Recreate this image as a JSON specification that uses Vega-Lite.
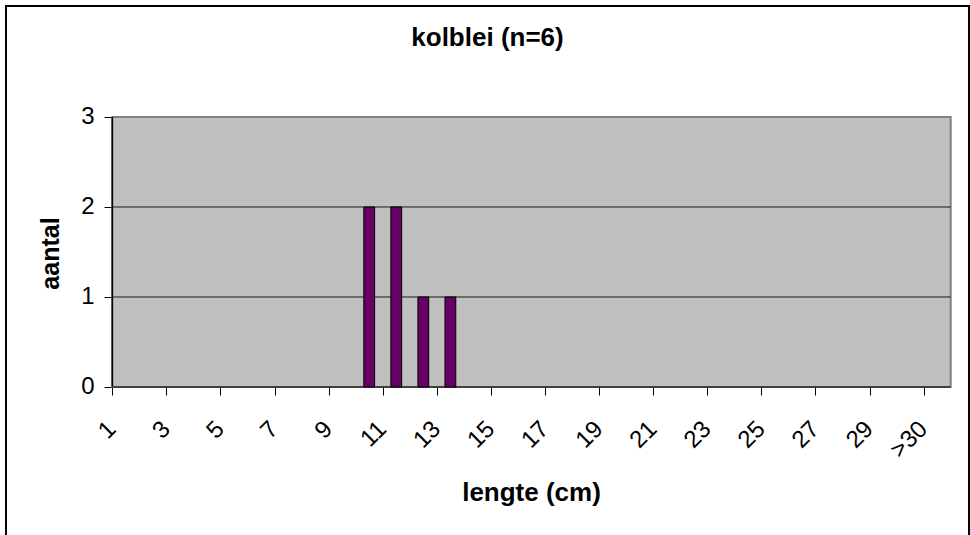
{
  "$schema": "https://vega.github.io/schema/vega-lite/v6.json",
  "width": 963,
  "height": 535,
  "autosize": "none",
  "padding": {"left": 6, "top": 6, "right": 1, "bottom": 0},
  "background": "white",
  "config": {
    "font": "Liberation Sans",
    "view": {"stroke": "black", "strokeWidth": 2, "fill": "white"}
  },
  "title": {
    "text": "kolblei (n=6)",
    "font": "Liberation Sans",
    "fontSize": 26,
    "fontWeight": "bold",
    "color": "black",
    "anchor": "middle",
    "frame": "group",
    "baseline": "alphabetic",
    "offset": -66
  },
  "data": {
    "values": [
      {"lengte": "1", "aantal": 0},
      {"lengte": "2", "aantal": 0},
      {"lengte": "3", "aantal": 0},
      {"lengte": "4", "aantal": 0},
      {"lengte": "5", "aantal": 0},
      {"lengte": "6", "aantal": 0},
      {"lengte": "7", "aantal": 0},
      {"lengte": "8", "aantal": 0},
      {"lengte": "9", "aantal": 0},
      {"lengte": "10", "aantal": 2},
      {"lengte": "11", "aantal": 2},
      {"lengte": "12", "aantal": 1},
      {"lengte": "13", "aantal": 1},
      {"lengte": "14", "aantal": 0},
      {"lengte": "15", "aantal": 0},
      {"lengte": "16", "aantal": 0},
      {"lengte": "17", "aantal": 0},
      {"lengte": "18", "aantal": 0},
      {"lengte": "19", "aantal": 0},
      {"lengte": "20", "aantal": 0},
      {"lengte": "21", "aantal": 0},
      {"lengte": "22", "aantal": 0},
      {"lengte": "23", "aantal": 0},
      {"lengte": "24", "aantal": 0},
      {"lengte": "25", "aantal": 0},
      {"lengte": "26", "aantal": 0},
      {"lengte": "27", "aantal": 0},
      {"lengte": "28", "aantal": 0},
      {"lengte": "29", "aantal": 0},
      {"lengte": "30", "aantal": 0},
      {"lengte": ">30", "aantal": 0}
    ]
  },
  "layer": [
    {
      "data": {"values": [{}]},
      "layer": [
        {
          "mark": {"type": "rect", "fill": "#C0C0C0", "stroke": "#808080", "strokeWidth": 2},
          "encoding": {
            "x": {
              "datum": 0,
              "type": "quantitative",
              "scale": {"domain": [-3.9305, 31.677], "nice": false, "zero": false},
              "axis": {
                "orient": "bottom",
                "offset": -154,
                "values": [0, 1, 2, 3, 4, 5, 6, 7, 8, 9, 10, 11, 12, 13, 14, 15, 16, 17, 18, 19, 20, 21, 22, 23, 24, 25, 26, 27, 28, 29, 30, 31],
                "domain": false,
                "grid": false,
                "labels": false,
                "ticks": true,
                "tickSize": 8,
                "tickColor": "black",
                "tickWidth": 1,
                "title": null
              }
            },
            "x2": {"datum": 31},
            "y": {
              "datum": 0,
              "type": "quantitative",
              "scale": {"domain": [-1.7111, 4.2333], "nice": false, "zero": false}
            },
            "y2": {"datum": 3}
          }
        },
        {
          "mark": {"type": "rule", "color": "#1a1a1a", "strokeWidth": 1},
          "encoding": {
            "x": {"datum": 0, "type": "quantitative"},
            "x2": {"datum": 31},
            "y": {"datum": 1, "type": "quantitative"}
          }
        },
        {
          "mark": {"type": "rule", "color": "#1a1a1a", "strokeWidth": 1},
          "encoding": {
            "x": {"datum": 0, "type": "quantitative"},
            "x2": {"datum": 31},
            "y": {"datum": 2, "type": "quantitative"}
          }
        },
        {
          "mark": {"type": "rule", "color": "black", "strokeWidth": 1.5},
          "encoding": {
            "x": {"datum": 0, "type": "quantitative"},
            "y": {"datum": 0, "type": "quantitative"},
            "y2": {"datum": 3}
          }
        },
        {
          "mark": {"type": "rule", "color": "#404040", "strokeWidth": 2},
          "encoding": {
            "x": {"datum": 0, "type": "quantitative"},
            "x2": {"datum": 31},
            "y": {"datum": 0, "type": "quantitative"}
          }
        }
      ]
    },
    {
      "mark": {"type": "bar", "fill": "#660066", "stroke": "black"},
      "encoding": {
        "x": {
          "field": "lengte",
          "type": "nominal",
          "sort": null,
          "scale": {"range": [106.3, 944.7], "paddingInner": 0.6, "paddingOuter": 0.3, "round": false},
          "axis": {
            "title": "lengte (cm)",
            "orient": "bottom",
            "offset": -154,
            "values": ["1", "3", "5", "7", "9", "11", "13", "15", "17", "19", "21", "23", "25", "27", "29", ">30"],
            "domain": false,
            "ticks": false,
            "tickSize": 0,
            "grid": false,
            "labelAngle": -45,
            "labelAlign": "right",
            "labelBaseline": "middle",
            "labelOffset": -13.5,
            "labelPadding": 38,
            "labelFontSize": 24,
            "labelFont": "Liberation Sans",
            "labelColor": "black",
            "labelOverlap": false,
            "labelFlush": false,
            "labelBound": false,
            "titleFont": "Liberation Sans",
            "titleFontSize": 26,
            "titleFontWeight": "bold",
            "titleColor": "black",
            "titleX": 525,
            "titleY": 113,
            "titleAlign": "center",
            "titleBaseline": "alphabetic"
          }
        },
        "y": {
          "field": "aantal",
          "type": "quantitative",
          "scale": {"domain": [-1.7111, 4.2333], "nice": false, "zero": false},
          "axis": {
            "title": "aantal",
            "orient": "left",
            "offset": -106,
            "values": [0, 1, 2, 3],
            "format": "d",
            "domain": false,
            "grid": false,
            "ticks": true,
            "tickSize": 8,
            "tickColor": "black",
            "tickWidth": 1,
            "labelFontSize": 24,
            "labelFont": "Liberation Sans",
            "labelColor": "black",
            "labelPadding": 10,
            "labelFlush": false,
            "labelOverlap": false,
            "labelBound": false,
            "titleFont": "Liberation Sans",
            "titleFontSize": 25,
            "titleFontWeight": "bold",
            "titleColor": "black",
            "titleAngle": -90,
            "titleX": -54,
            "titleY": 247,
            "titleAlign": "center",
            "titleBaseline": "alphabetic"
          }
        },
        "strokeWidth": {"condition": {"test": "datum.aantal > 0", "value": 1}, "value": 0}
      }
    }
  ],
  "resolve": {"scale": {"x": "independent"}}
}
